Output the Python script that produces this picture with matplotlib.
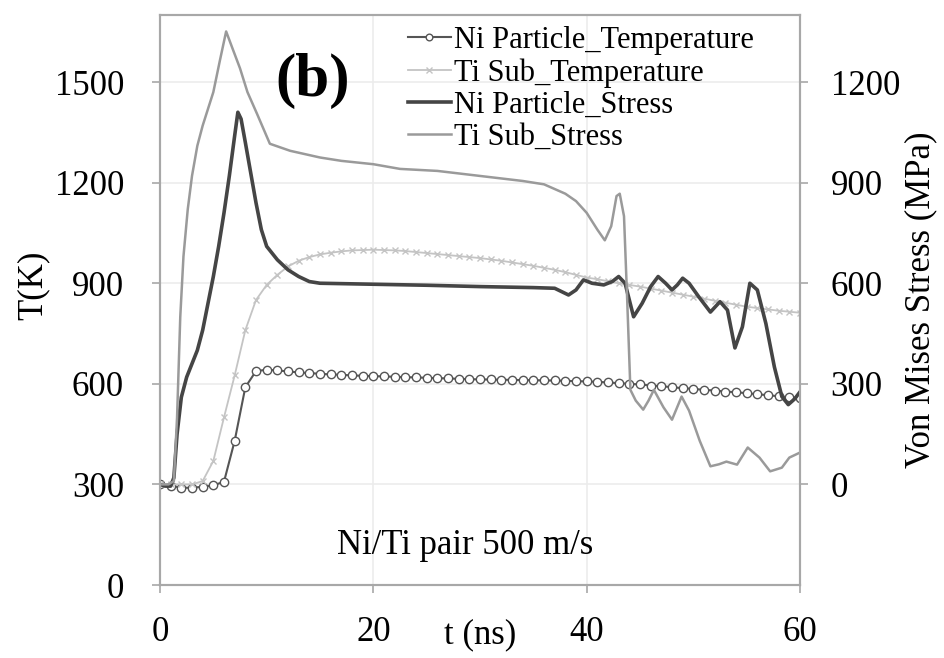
import matplotlib
import matplotlib.pyplot as plt
from matplotlib.ticker import MultipleLocator

# Temperature series (left axis, K), one value per ns
t_temp = list(range(0, 61))
ni_temp = [300, 296, 290, 290, 293, 297, 308, 430, 590, 638,
           642, 640, 637, 634, 632, 630, 628, 627, 625, 624,
           623, 622, 621, 620, 619, 618, 617, 616, 615, 614,
           613, 613, 612, 612, 611, 611, 610, 610, 609, 608,
           607, 606, 604, 602, 600, 598, 595, 593, 590, 587,
           585, 582, 580, 577, 575, 572, 569, 566, 563, 560, 558]
ti_temp = [300, 300, 300, 300, 310, 370, 500, 625, 760, 850,
           895, 925, 950, 967, 978, 986, 991, 995, 998, 999,
           1000, 999, 998, 996, 993, 990, 987, 984, 981, 978,
           975, 971, 967, 962, 957, 952, 946, 940, 933, 925,
           917, 912, 906, 900, 895, 890, 884, 878, 872, 866,
           860, 854, 848, 842, 836, 830, 826, 822, 818, 815, 812]

# Stress series (right axis, MPa)
t_ni_stress = [0, 0.5, 1.0, 1.3, 1.6, 2.0, 2.5, 3.0, 3.5, 4.0, 4.5, 5.0, 5.5,
               6.0, 6.5, 7.0, 7.3, 7.6, 8.0, 8.5, 9.0, 9.5, 10, 11, 12, 13,
               14, 15, 20, 25, 30, 35, 37, 38.3, 39.0, 39.7, 40.5, 41.6,
               42.4, 43.0, 43.6, 44.4, 45.2, 46.0, 46.7, 47.4, 48.0, 48.5,
               49.0, 49.6, 50.5, 51.6, 52.5, 53.2, 53.9, 54.6, 55.3, 56.0,
               56.8, 57.6, 58.3, 58.9, 59.5, 60]
ni_stress = [0, -5, -5, 20, 150, 260, 320, 360, 400, 460, 540, 620, 710,
             810, 920, 1040, 1110, 1090, 1020, 930, 840, 760, 710, 670, 640,
             620, 605, 600, 597, 594, 590, 587, 585, 565, 580, 610, 600, 595,
             605, 620, 600, 500, 540, 590, 620, 600, 580, 595, 615, 600, 560,
             514, 545, 520, 407, 470, 600, 580, 480, 350, 262, 238, 255, 276]

t_ti_stress = [0, 0.8, 1.3, 1.6, 1.9, 2.2, 2.6, 3.0, 3.5, 4.0, 4.5, 5.0, 5.6,
               6.2, 6.8, 7.5, 8.2, 9.1, 10.3, 12.2, 15, 17, 20, 22.5, 26, 30,
               34, 36, 38, 39, 40, 41, 41.7, 42.3, 42.8, 43.1, 43.5, 43.8,
               44.1, 44.6, 45.3, 45.8, 46.3, 47.2, 48.0, 48.9, 49.6, 50.6,
               51.6, 52.4, 53.1, 54.1, 55.1, 56.2, 57.2, 58.3, 59.0, 60]
ti_stress = [0, 0, 10, 200, 500, 680, 820, 920, 1010, 1070, 1120, 1170, 1262,
             1351, 1300, 1241, 1170, 1105, 1016, 995, 975, 965, 955, 941, 935,
             920, 905, 895, 867, 845, 810, 760, 728, 770, 860, 867, 800, 550,
             282, 250, 223, 250, 282, 230, 193, 262, 220, 130, 54, 60, 68, 59,
             110, 80, 39, 50, 80, 95]

labels = ["Ni Particle_Temperature", "Ti Sub_Temperature",
          "Ni Particle_Stress", "Ti Sub_Stress"]

plt.rcParams['font.family'] = ['Liberation Serif', 'DejaVu Serif']
spine_col = '#a8a8a8'

fig = plt.figure(figsize=(9.44, 6.58), dpi=100)
ax = fig.add_axes([160 / 944, 1 - 585 / 658, 640 / 944, 570 / 658])
ax2 = ax.twinx()

# Temperature curves
h1, = ax.plot(t_temp, ni_temp, color='#555555', lw=1.5, marker='o', ms=6,
              mfc='white', mec='#555555', mew=1.0)
h2, = ax.plot(t_temp, ti_temp, color='#c4c4c4', lw=1.3, marker='x', ms=5,
              mec='#c4c4c4', mew=1.0)

# Stress curves
h3, = ax2.plot(t_ni_stress, ni_stress, color='#454545', lw=2.6)
h4, = ax2.plot(t_ti_stress, ti_stress, color='#9a9a9a', lw=1.8)

ax.set_xlim(0, 60)
ax.set_ylim(0, 1700)
ax2.set_ylim(-300, 1400)
ax.xaxis.set_major_locator(MultipleLocator(20))
ax.set_yticks([0, 300, 600, 900, 1200, 1500])
ax2.set_yticks([0, 300, 600, 900, 1200])

ax.grid(True, color='#ececec', lw=1.2)
ax.set_axisbelow(True)

for a in (ax, ax2):
    for s in a.spines.values():
        s.set_color(spine_col)
        s.set_linewidth(1.5)
ax.tick_params(axis='both', direction='out', length=6, width=1.2,
               color=spine_col, labelsize=25, pad=20)
ax.tick_params(axis='x', pad=16)
ax2.tick_params(axis='y', direction='out', length=6, width=1.2,
                color=spine_col, labelsize=25, pad=16)

ax.set_xlabel("t (ns)", fontsize=25, labelpad=-22)
ax.set_ylabel("T(K)", fontsize=25)
ax.yaxis.set_label_coords(-0.172, 0.526)
ax2.set_ylabel("Von Mises Stress (MPa)", fontsize=25, rotation=90)
ax2.yaxis.set_label_coords(1.163, 0.5)

ax.text(0.238, 0.885, "(b)", transform=ax.transAxes, fontsize=44,
        fontweight='bold', ha='center', va='center')
ax.text(0.477, 0.07, "Ni/Ti pair 500 m/s", transform=ax.transAxes,
        fontsize=25, ha='center', va='center')

fig.legend([h1, h2, h3, h4], labels, loc='upper left',
           bbox_to_anchor=(408 / 944, 1 - 26 / 658), frameon=False,
           fontsize=22, handlelength=1.4, handletextpad=0.1,
           labelspacing=0.1, borderpad=0, borderaxespad=0, markerscale=0.8)

fig.savefig("out.png", dpi=100)
